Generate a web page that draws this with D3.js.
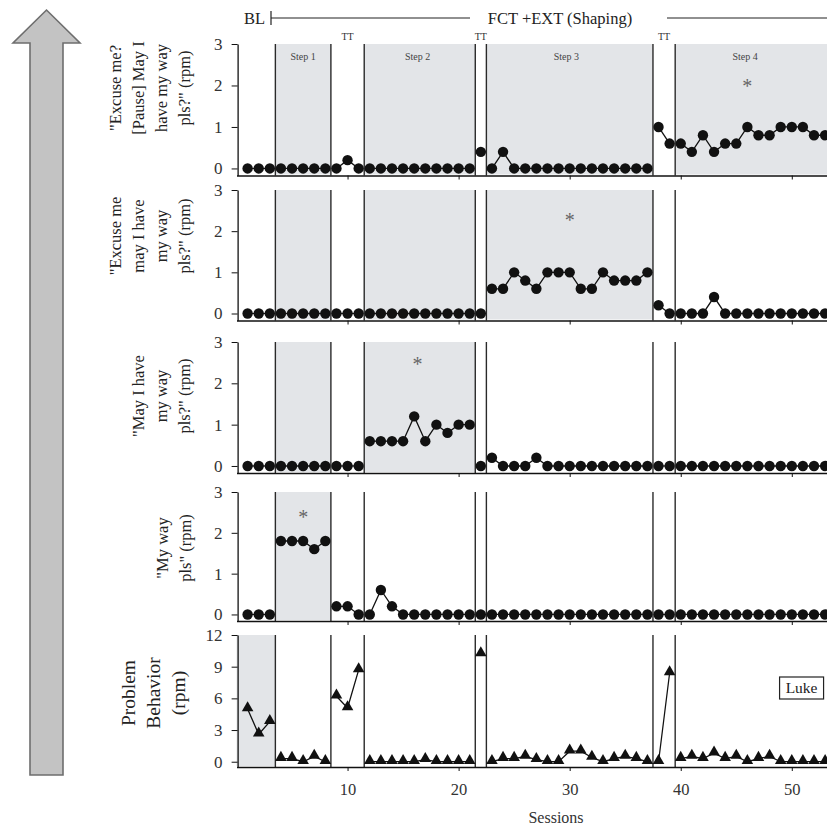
<!DOCTYPE html>
<html>
<head>
<meta charset="utf-8">
<script src="https://cdn.jsdelivr.net/npm/d3@7"></script>
<style>
  html, body { margin: 0; padding: 0; background: #fff; }
  svg { display: block; }
  text { font-family: "Liberation Serif", "Times New Roman", serif; }
</style>
</head>
<body>
<svg id="chart" width="827" height="829"></svg>
<script>
// ---------------- DATA ----------------
const sessions = d3.range(1, 54);
const phaseChanges = [3.5, 8.5, 11.5, 21.5, 22.5, 37.5, 39.5];

const excusePauseMay = [0,0,0,0,0,0,0,0,0, 0.2, 0,
  0,0,0,0,0,0,0,0,0,0,
  0.4,
  0,0.4,0,0,0,0,0,0,0,0,0,0,0,0,0,
  1.0,0.6,
  0.6,0.4,0.8,0.4,0.6,0.6,1.0,0.8,0.8,1.0,1.0,1.0,0.8,0.8];
const excuseMay = [0,0,0,0,0,0,0,0,0,0,0,0,0,0,0,0,0,0,0,0,0,0,
  0.6,0.6,1.0,0.8,0.6,1.0,1.0,1.0,0.6,0.6,1.0,0.8,0.8,0.8,1.0,
  0.2,0,
  0,0,0,0.4,0,0,0,0,0,0,0,0,0,0];
const mayIHave = [0,0,0,0,0,0,0,0,0,0,0,
  0.6,0.6,0.6,0.6,1.2,0.6,1.0,0.8,1.0,1.0,
  0,
  0.2,0,0,0,0.2,0,0,0,0,0,0,0,0,0,0,
  0,0,
  0,0,0,0,0,0,0,0,0,0,0,0,0,0];
const myWayPls = [0,0,0,
  1.8,1.8,1.8,1.6,1.8,
  0.2,0.2,0,
  0,0.6,0.2,0,0,0,0,0,0,0,
  0,
  0,0,0,0,0,0,0,0,0,0,0,0,0,0,0,
  0,0,
  0,0,0,0,0,0,0,0,0,0,0,0,0,0];
const problemBehavior = [5.0,2.6,3.8,
  0.3,0.3,0,0.5,0,
  6.2,5.1,8.7,
  0,0,0,0,0,0.2,0,0,0,0,
  10.2,
  0,0.3,0.3,0.5,0.2,0,0,1.0,1.0,0.4,0,0.3,0.5,0.3,0,
  0,8.4,
  0.3,0.5,0.3,0.8,0.3,0.5,0,0.3,0.5,0,0,0,0,0];

const xTicks = [10, 20, 30, 40, 50];
const yTicksSmall = [0, 1, 2, 3];
const yTicksPB = [0, 3, 6, 9, 12];

const panelTitles = [
  ['"Excuse me?', '[Pause] May I', 'have my way', 'pls?" (rpm)'],
  ['"Excuse me', 'may I have', 'my way', 'pls?" (rpm)'],
  ['"May I have', 'my way', 'pls?" (rpm)'],
  ['"My way', 'pls" (rpm)'],
  ['Problem', 'Behavior', '(rpm)']
];
// shaded ranges (in sessions) per panel
const shading = [
  [[3.5, 8.5], [11.5, 21.5], [22.5, 37.5], [39.5, 53.4]],
  [[3.5, 8.5], [11.5, 21.5], [22.5, 37.5]],
  [[3.5, 8.5], [11.5, 21.5]],
  [[3.5, 8.5]],
  [[0, 3.5]]
];
// asterisk positions [session, value] (null = none)
const asterisks = [[46, 2.0], [30, 2.3], [16.3, 2.5], [6, 2.4], null];
const stepLabels = [["Step 1", 6], ["Step 2", 16.3], ["Step 3", 29.7], ["Step 4", 45.8]];
const ttLabels = [10, 22, 38.5];

// ---------------- LAYOUT ----------------
const svg = d3.select("#chart");
const x = d3.scaleLinear().domain([0, 53.35]).range([236.5, 829]);

const panels = [
  { data: excusePauseMay, top: 44, bottom: 175.5, ymin: -0.17, ymax: 3, ticks: yTicksSmall, marker: "circle", tcx: 150, tcy: 88, fs: 16.5, lh: 23 },
  { data: excuseMay, top: 190, bottom: 320.5, ymin: -0.17, ymax: 3, ticks: yTicksSmall, marker: "circle", tcx: 150, tcy: 236, fs: 16.5, lh: 23 },
  { data: mayIHave, top: 342, bottom: 473, ymin: -0.17, ymax: 3, ticks: yTicksSmall, marker: "circle", tcx: 161, tcy: 396, fs: 16.5, lh: 23 },
  { data: myWayPls, top: 492, bottom: 621, ymin: -0.16, ymax: 3, ticks: yTicksSmall, marker: "circle", tcx: 174, tcy: 548, fs: 16.5, lh: 23 },
  { data: problemBehavior, top: 635, bottom: 767, ymin: -0.5, ymax: 12, ticks: yTicksPB, marker: "triangle", tcx: 153, tcy: 693, fs: 19.5, lh: 25 }
];

// ---------------- ARROW ----------------
const arrowPts = [[30, 775], [30, 43], [13, 43], [46.5, 10], [80, 43], [63, 43], [63, 775]];
svg.append("polygon")
  .attr("points", arrowPts.map(p => p.join(",")).join(" "))
  .attr("fill", "#c3c3c3")
  .attr("stroke", "#6e6e6e")
  .attr("stroke-width", 1.6);

// ---------------- HEADER ----------------
const header = svg.append("g").attr("fill", "#222").attr("font-size", 16.5);
header.append("text").attr("x", 244).attr("y", 24).text("BL");
header.append("line").attr("x1", 271).attr("x2", 271).attr("y1", 11).attr("y2", 25).attr("stroke", "#222").attr("stroke-width", 1.2);
header.append("line").attr("x1", 271).attr("x2", 470).attr("y1", 18).attr("y2", 18).attr("stroke", "#222").attr("stroke-width", 1.2);
header.append("text").attr("x", 560).attr("y", 24).attr("text-anchor", "middle").text("FCT +EXT (Shaping)");
header.append("line").attr("x1", 667).attr("x2", 827).attr("y1", 18).attr("y2", 18).attr("stroke", "#222").attr("stroke-width", 1.2);

// ---------------- PANELS ----------------
function phaseOf(s) { return phaseChanges.filter(b => b < s).length; }

panels.forEach((p, pi) => {
  const y = d3.scaleLinear().domain([p.ymin, p.ymax]).range([p.bottom, p.top]);
  const g = svg.append("g");

  // shading
  g.selectAll("rect.shade").data(shading[pi]).enter().append("rect")
    .attr("class", "shade")
    .attr("x", d => x(d[0]))
    .attr("width", d => x(d[1]) - x(d[0]))
    .attr("y", y(p.ymax))
    .attr("height", y(p.ymin) - y(p.ymax) - 1)
    .attr("fill", "#e3e5e8");

  // phase lines
  g.selectAll("line.phase").data(phaseChanges).enter().append("line")
    .attr("x1", d => x(d)).attr("x2", d => x(d))
    .attr("y1", y(p.ymax)).attr("y2", y(p.ymin))
    .attr("stroke", "#2a2a2a").attr("stroke-width", 1.4);

  // axes
  const yAxis = d3.axisLeft(y).tickValues(p.ticks).tickSize(6).tickSizeOuter(0).tickPadding(9)
    .tickFormat(d3.format("d"));
  const ya = g.append("g").attr("transform", `translate(${x(0.1)},0)`).call(yAxis);
  ya.select(".domain").attr("stroke", "#111").attr("stroke-width", 1.3);
  ya.selectAll(".tick line").attr("stroke", "#111");
  ya.selectAll(".tick text").attr("font-size", 17).attr("fill", "#333")
    .attr("font-family", "Liberation Serif, serif");

  const xAxis = d3.axisBottom(x).tickValues(xTicks).tickSize(4).tickSizeOuter(0)
    .tickFormat(pi === 4 ? d3.format("d") : () => "").tickPadding(12);
  const xa = g.append("g").attr("transform", `translate(0,${p.bottom})`).call(xAxis);
  xa.select(".domain").attr("stroke", "#111").attr("stroke-width", 1.4);
  xa.selectAll(".tick line").attr("stroke", "#111");
  xa.selectAll(".tick text").attr("font-size", 16.5).attr("fill", "#333")
    .attr("font-family", "Liberation Serif, serif");

  // data lines, broken at phase changes
  const pts = sessions.map((s, i) => ({ s, v: p.data[i], ph: phaseOf(s) }));
  const groups = d3.groups(pts, d => d.ph);
  const line = d3.line().x(d => x(d.s)).y(d => y(d.v));
  g.selectAll("path.series").data(groups).enter().append("path")
    .attr("d", d => line(d[1]))
    .attr("fill", "none").attr("stroke", "#111").attr("stroke-width", 1.3);

  // markers
  if (p.marker === "circle") {
    g.selectAll("circle.pt").data(pts).enter().append("circle")
      .attr("cx", d => x(d.s)).attr("cy", d => y(d.v)).attr("r", 5.2)
      .attr("fill", "#111");
  } else {
    const tri = d3.symbol().type(d3.symbolTriangle).size(58);
    g.selectAll("path.pt").data(pts).enter().append("path")
      .attr("d", tri)
      .attr("transform", d => `translate(${x(d.s)},${y(d.v) - 1})`)
      .attr("fill", "#111");
  }

  // asterisk
  if (asterisks[pi]) {
    g.append("text")
      .attr("x", x(asterisks[pi][0])).attr("y", y(asterisks[pi][1]) + 8)
      .attr("text-anchor", "middle").attr("font-size", 20).attr("fill", "#666")
      .text("*");
  }

  // y title
  const tg = svg.append("g").attr("transform", `translate(${p.tcx},${p.tcy}) rotate(-90)`);
  const lines = panelTitles[pi];
  tg.selectAll("text").data(lines).enter().append("text")
    .attr("x", 0)
    .attr("y", (d, i) => (i - (lines.length - 1) / 2) * p.lh)
    .attr("dy", "0.35em")
    .attr("text-anchor", "middle")
    .attr("font-size", p.fs)
    .attr("fill", "#222")
    .text(d => d);

  // labels inside top panel
  if (pi === 0) {
    g.selectAll("text.step").data(stepLabels).enter().append("text")
      .attr("x", d => x(d[1])).attr("y", 60)
      .attr("text-anchor", "middle").attr("font-size", 10).attr("fill", "#444")
      .text(d => d[0]);
    g.selectAll("text.tt").data(ttLabels).enter().append("text")
      .attr("x", d => x(d)).attr("y", 40)
      .attr("text-anchor", "middle").attr("font-size", 10).attr("fill", "#333")
      .text("TT");
  }

  if (pi === 4) {
    // Luke box
    const lb = svg.append("g");
    lb.append("rect").attr("x", x(48.9)).attr("y", 677).attr("width", 44).attr("height", 22)
      .attr("fill", "#fff").attr("stroke", "#222").attr("stroke-width", 1.2);
    lb.append("text").attr("x", x(48.9) + 22).attr("y", 693).attr("text-anchor", "middle")
      .attr("font-size", 15.5).attr("fill", "#222").text("Luke");
    svg.append("text").attr("x", 556).attr("y", 823).attr("text-anchor", "middle")
      .attr("font-size", 16).attr("fill", "#333").text("Sessions");
  }
});
</script>
</body>
</html>
